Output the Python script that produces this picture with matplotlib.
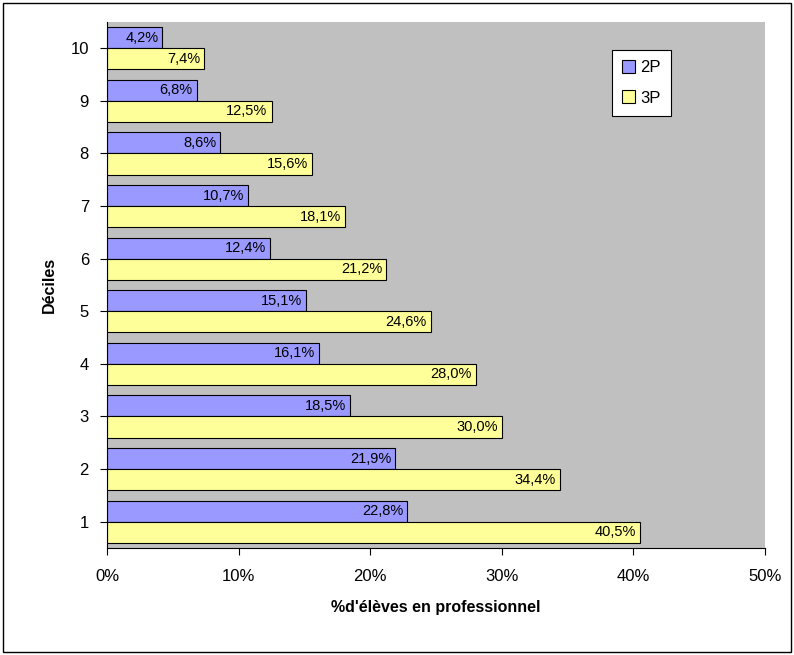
import matplotlib
matplotlib.use("Agg")
import matplotlib.pyplot as plt
from matplotlib.patches import Rectangle
import numpy as np

plt.rcParams['font.family'] = ['Liberation Sans', 'DejaVu Sans']

deciles = [1, 2, 3, 4, 5, 6, 7, 8, 9, 10]
p2 = [22.8, 21.9, 18.5, 16.1, 15.1, 12.4, 10.7, 8.6, 6.8, 4.2]
p3 = [40.5, 34.4, 30.0, 28.0, 24.6, 21.2, 18.1, 15.6, 12.5, 7.4]
xticks = [0, 10, 20, 30, 40, 50]

fig = plt.figure(figsize=(7.94, 6.55), dpi=100)
fig.patches.append(Rectangle((0.004, 0.004), 0.992, 0.992, transform=fig.transFigure,
                             fill=False, edgecolor='black', linewidth=1))
ax = fig.add_axes([0.1348, 0.1634, 0.8287, 0.803])
ax.set_facecolor('#C0C0C0')
y = np.array(deciles, dtype=float)
ax.barh(y + 0.2, p2, height=0.4, color='#9999FF', edgecolor='black', linewidth=0.8, label='2P')
ax.barh(y - 0.2, p3, height=0.4, color='#FFFF99', edgecolor='black', linewidth=0.8, label='3P')
for yy, v in zip(y, p2):
    ax.text(v - 0.3, yy + 0.2, f"{v:.1f}%".replace('.', ','), ha='right', va='center', fontsize=10.5)
for yy, v in zip(y, p3):
    ax.text(v - 0.3, yy - 0.2, f"{v:.1f}%".replace('.', ','), ha='right', va='center', fontsize=10.5)
ax.set_xlim(0, 50)
ax.set_ylim(0.5, 10.5)
ax.set_xticks(xticks)
ax.set_xticklabels([f"{t}%" for t in xticks], fontsize=12)
ax.set_yticks(deciles)
ax.set_yticklabels([str(d) for d in deciles], fontsize=12)
ax.tick_params(axis='x', length=5, pad=10)
ax.tick_params(axis='y', length=5, pad=8)
for s in ['top', 'right']:
    ax.spines[s].set_visible(False)
ax.set_xlabel("%d'élèves en professionnel", fontsize=11.5, fontweight='bold', labelpad=12)
ax.set_ylabel("Déciles", fontsize=11.5, fontweight='bold', labelpad=10)
leg = ax.legend(loc='upper left', bbox_to_anchor=(0.755, 0.962), fontsize=12, frameon=True,
                fancybox=False, edgecolor='black', framealpha=1, handlelength=0.8,
                handleheight=0.8, handletextpad=0.3, labelspacing=0.9, borderpad=0.6)
leg.get_frame().set_linewidth(0.8)
fig.savefig("out.png", dpi=100)
